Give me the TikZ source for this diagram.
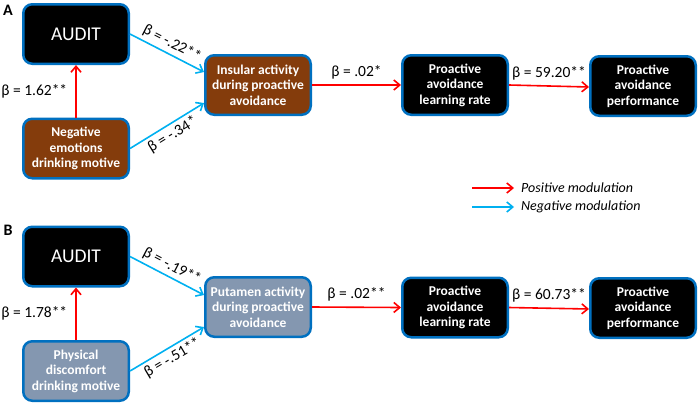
\documentclass[tikz,border=0pt]{standalone}
\usepackage{fontspec}
\setmainfont{Carlito}
\usetikzlibrary{arrows.meta}
\definecolor{brd}{RGB}{0,112,192}
\definecolor{brownf}{RGB}{132,60,12}
\definecolor{greyf}{RGB}{132,151,176}
\definecolor{posc}{RGB}{255,0,0}
\definecolor{negc}{RGB}{0,176,240}
\tikzset{
  box/.style={draw=brd, line width=2.5pt, rounded corners=9pt, minimum width=105.5pt, minimum height=59.5pt, text=white, font=\bfseries\fontsize{13.5}{15.5}\selectfont, align=center, inner sep=0pt},
  blackbox/.style={box, fill=black},
  auditbox/.style={box, fill=black, font=\fontsize{19.5}{22}\selectfont},
  brownbox/.style={box, fill=brownf},
  greybox/.style={box, fill=greyf},
  posarrow/.style={draw=posc, line width=1.6pt, -{Straight Barb[length=6pt,width=10pt,line width=1.6pt]}},
  negarrow/.style={draw=negc, line width=1.6pt, -{Straight Barb[length=6pt,width=10pt,line width=1.6pt]}},
  lbl/.style={font=\fontsize{15.5}{18}\selectfont, text=black, inner sep=2pt},
  legtxt/.style={font=\itshape\fontsize{14}{16}\selectfont, anchor=west, inner sep=0pt},
  panel/.style={font=\bfseries\fontsize{16}{18}\selectfont}
}
\begin{document}
\begin{tikzpicture}[x=1pt,y=-1pt]
\useasboundingbox (0,0) rectangle (700,405);
% Panel A
\node[panel] (pA) at (8,10) {A};
\node[auditbox] (audA) at (76,34) {AUDIT};
\node[brownbox] (negA) at (76,148.5) {Negative\\emotions\\drinking motive};
\node[brownbox] (insA) at (258,85) {Insular activity\\during proactive\\avoidance};
\node[blackbox] (lrA) at (455,85) {Proactive\\avoidance\\learning rate};
\node[blackbox] (perfA) at (643,86) {Proactive\\avoidance\\performance};
\draw[negarrow] (audA.east) -- node[lbl, midway, above, sloped, yshift=1pt] {β = -.22**} ([yshift=13pt]insA.west);
\draw[negarrow] (negA.east) -- node[lbl, midway, below, sloped, yshift=-1pt] {β = -.34*} ([yshift=-18pt]insA.west);
\draw[posarrow] (negA.north) -- node[lbl, midway, left=6pt] {β = 1.62**} (audA.south);
\draw[posarrow] (insA.east) -- node[lbl, midway, above, yshift=3pt] {β = .02*} (lrA.west);
\draw[posarrow] (lrA.east) -- node[lbl, midway, above, yshift=3pt] {β = 59.20**} ([yshift=-1pt]perfA.west);
% Legend
\coordinate (lp1) at (472,188);
\coordinate (lp2) at (514,188);
\coordinate (ln1) at (472,207);
\coordinate (ln2) at (514,207);
\draw[posarrow] (lp1) -- (lp2);
\draw[negarrow] (ln1) -- (ln2);
\node[legtxt] (lpt) at (521,188) {Positive modulation};
\node[legtxt] (lnt) at (521,207) {Negative modulation};
% Panel B
\node[panel] (pB) at (8,230) {B};
\node[auditbox] (audB) at (76,256.5) {AUDIT};
\node[greybox] (phyB) at (76,371) {Physical\\discomfort\\drinking motive};
\node[greybox] (putB) at (258,307) {Putamen activity\\during proactive\\avoidance};
\node[blackbox] (lrB) at (455,307.5) {Proactive\\avoidance\\learning rate};
\node[blackbox] (perfB) at (643,308) {Proactive\\avoidance\\performance};
\draw[negarrow] (audB.east) -- node[lbl, midway, above, sloped, yshift=1pt] {β = -.19**} ([yshift=12pt]putB.west);
\draw[negarrow] (phyB.east) -- node[lbl, midway, below, sloped, yshift=-1pt] {β = -.51**} ([yshift=-20pt]putB.west);
\draw[posarrow] (phyB.north) -- node[lbl, midway, left=6pt] {β = 1.78**} (audB.south);
\draw[posarrow] (putB.east) -- node[lbl, midway, above, yshift=3pt] {β = .02**} (lrB.west);
\draw[posarrow] (lrB.east) -- node[lbl, midway, above, yshift=3pt] {β = 60.73**} ([yshift=-1pt]perfB.west);
\end{tikzpicture}
\end{document}
